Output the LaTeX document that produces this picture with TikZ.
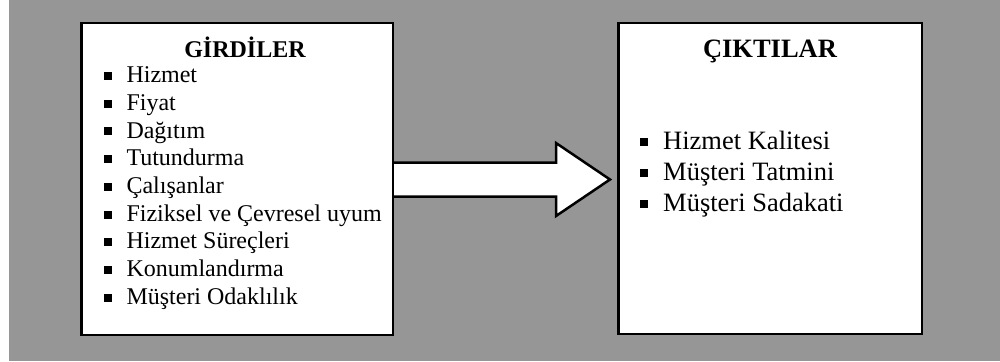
\documentclass[tikz,border=0pt]{standalone}
\usepackage{fontspec}
\setmainfont{Liberation Serif}
\usetikzlibrary{calc}
\definecolor{panelgray}{RGB}{150,150,150}
% small filled square used as list marker
\newcommand\listsq{\makebox[23pt][l]{\rule[2.7pt]{8pt}{8pt}}}
\begin{document}
\begin{tikzpicture}[x=1pt,y=-1pt,
  frame/.style={draw=black, fill=white, line width=2.5pt, rectangle, inner sep=0pt},
  titleA/.style={inner sep=0pt, anchor=base, font=\fontsize{24}{28}\selectfont\bfseries},
  titleB/.style={inner sep=0pt, anchor=base, font=\fontsize{26.5}{31}\selectfont\bfseries},
  itemA/.style={inner sep=0pt, anchor=base west, font=\fontsize{24}{28}\selectfont},
  itemB/.style={inner sep=0pt, anchor=base west, font=\fontsize{26.5}{31}\selectfont},
  bigarrow/.style={draw=black, fill=white, line width=2.5pt, line join=miter}]
\useasboundingbox (0,0) rectangle (1000,361);
\fill[panelgray] (9,0) rectangle (1000,361);

% the two boxes
\node[frame, minimum width=311.5pt, minimum height=311.5pt] (inputs) at (237,179) {};
\node[frame, minimum width=303.5pt, minimum height=311pt] (outputs) at (770,178.5) {};

% inputs
\node[titleA] (inputs-title) at (245,57) {GİRDİLER};
\foreach \t [count=\i] in {Hizmet, Fiyat, Dağıtım, Tutundurma, Çalışanlar,
    Fiziksel ve Çevresel uyum, Hizmet Süreçleri, Konumlandırma, Müşteri Odaklılık}
  \node[itemA] (in-\i) at (103.3, {82.7+27.7*(\i-1)}) {\listsq\t};

% outputs
\node[titleB] (outputs-title) at (770,58) {ÇIKTILAR};
\foreach \t [count=\i] in {Hizmet Kalitesi, Müşteri Tatmini, Müşteri Sadakati}
  \node[itemB] (out-\i) at (640, {149+31*(\i-1)}) {\listsq\t};

% block arrow from inputs to outputs
\coordinate (tip) at ($(outputs.west)+(-7,1)$);
\draw[bigarrow] ($(inputs.east)+(0,-16.5)$) -- ($(tip)+(-54,-17)$)
  -- ($(tip)+(-54,-36.5)$) -- (tip) -- ($(tip)+(-54,36.5)$)
  -- ($(tip)+(-54,17)$) -- ($(inputs.east)+(0,17.5)$);
\end{tikzpicture}
\end{document}
